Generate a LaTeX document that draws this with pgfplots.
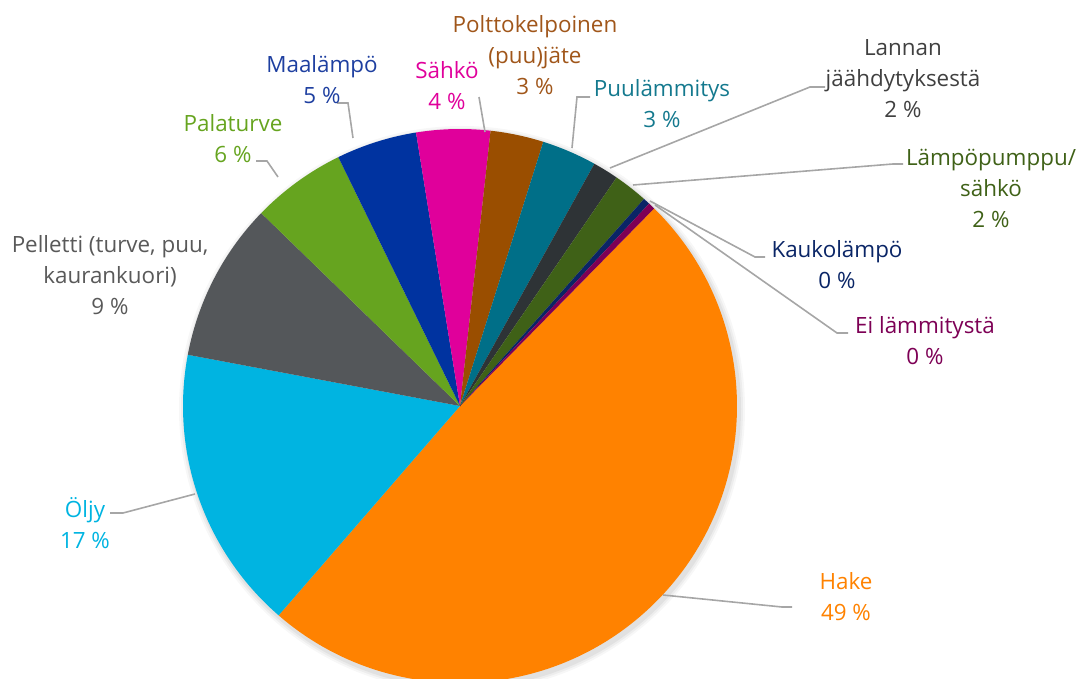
\documentclass[border=0pt]{standalone}
\usepackage{pgfplots}
\pgfplotsset{compat=1.18}
\usepackage{pgfplotstable}
\usepackage{fontspec}
\setmainfont{Open Sans}
\definecolor{cHake}{HTML}{FF8200}
\definecolor{cOljy}{HTML}{00B4E1}
\definecolor{cPell}{HTML}{54575A}
\definecolor{cPala}{HTML}{66A41F}
\definecolor{cMaa}{HTML}{0033A0}
\definecolor{cSahko}{HTML}{E0009B}
\definecolor{cPoltto}{HTML}{9A4E00}
\definecolor{cPuu}{HTML}{006F88}
\definecolor{cLannan}{HTML}{2E3336}
\definecolor{cLampo}{HTML}{3F6117}
\definecolor{cKauko}{HTML}{0A2566}
\definecolor{cEi}{HTML}{7D0055}
\definecolor{tPell}{HTML}{595959}
\definecolor{tPoltto}{HTML}{A0561A}
\definecolor{tPuu}{HTML}{14798E}
\definecolor{tLannan}{HTML}{404040}
\definecolor{tMaa}{HTML}{1E3FA0}
\definecolor{leader}{HTML}{A6A6A6}
\pgfplotstableread[col sep=comma]{
name,value,col
Hake,49.0,cHake
Oljy,16.6,cOljy
Pelletti,9.3,cPell
Palaturve,5.5,cPala
Maalampo,4.7,cMaa
Sahko,4.3,cSahko
Polttokelpoinen,3.1,cPoltto
Puulammitys,3.2,cPuu
Lannan,1.5,cLannan
Lampopumppu,2.0,cLampo
Kaukolampo,0.4,cKauko
Ei,0.4,cEi
}\piedata
\tikzset{lbl/.style={font=\fontsize{11.2pt}{15.5pt}\selectfont, align=center, inner sep=0pt}}
\begin{document}
\begin{tikzpicture}
\begin{axis}[name=ax,
  scale only axis, width=541pt, height=339.5pt,
  xmin=0, xmax=1082, ymin=0, ymax=679, y dir=reverse,
  axis lines=none, clip=true,
]
% soft shadow
\foreach \k/\op in {6/0.03,4/0.04,2/0.05}{
  \edef\temp{\noexpand\fill[black, opacity=\op] (axis cs:462,409) circle[radius=138.5pt+\k*0.5pt];}
  \temp
}
\pgfplotstablegetrowsof{\piedata}
\pgfmathtruncatemacro\N{\pgfplotsretval-1}
\def\angstart{45.5}
\pgfplotsforeachungrouped \i in {0,...,\N}{%
  \pgfplotstablegetelem{\i}{value}\of\piedata \let\v\pgfplotsretval
  \pgfplotstablegetelem{\i}{col}\of\piedata \let\c\pgfplotsretval
  \pgfmathsetmacro\angend{\angstart-3.6*\v}%
  \edef\temp{\noexpand\fill[\c] (axis cs:460,406) -- ++(\angstart:138.5pt) arc[start angle=\angstart, end angle=\angend, radius=138.5pt] -- cycle;}%
  \temp
  \global\let\angstart\angend
}
% leader lines
\draw[leader, line width=0.8pt] (axis cs:663,595) -- (axis cs:782,607) -- (axis cs:792,607);
\draw[leader, line width=0.8pt] (axis cs:195,494) -- (axis cs:123,513) -- (axis cs:110,513);
\draw[leader, line width=0.8pt] (axis cs:278,177) -- (axis cs:267,161) -- (axis cs:256,161);
\draw[leader, line width=0.8pt] (axis cs:353,138) -- (axis cs:348,103) -- (axis cs:337,103);
\draw[leader, line width=0.8pt] (axis cs:485,132) -- (axis cs:479,97);
\draw[leader, line width=0.8pt] (axis cs:572,148) -- (axis cs:577,97) -- (axis cs:590,97);
\draw[leader, line width=0.8pt] (axis cs:610,168) -- (axis cs:810,87) -- (axis cs:825,87);
\draw[leader, line width=0.8pt] (axis cs:633,185) -- (axis cs:893,164) -- (axis cs:903,164);
\draw[leader, line width=0.8pt] (axis cs:650,201) -- (axis cs:755,257) -- (axis cs:765,257);
\draw[leader, line width=0.8pt] (axis cs:655,205) -- (axis cs:837,333) -- (axis cs:848,333);
% labels
\node[lbl, text=cHake] at (axis cs:846,597) {Hake\\49 \%};
\node[lbl, text=cOljy] at (axis cs:85,523) {Öljy\\17 \%};
\node[lbl, text=tPell] at (axis cs:110,275) {Pelletti (turve, puu,\\kaurankuori)\\9 \%};
\node[lbl, text=cPala] at (axis cs:233,139) {Palaturve\\6 \%};
\node[lbl, text=tMaa] at (axis cs:322,80) {Maalämpö\\5 \%};
\node[lbl, text=cSahko] at (axis cs:447,86) {Sähkö\\4 \%};
\node[lbl, text=tPoltto] at (axis cs:535,55) {Polttokelpoinen\\(puu)jäte\\3 \%};
\node[lbl, text=tPuu] at (axis cs:662,104) {Puulämmitys\\3 \%};
\node[lbl, text=tLannan] at (axis cs:903,79) {Lannan\\jäähdytyksestä\\2 \%};
\node[lbl, text=cLampo] at (axis cs:991,188) {Lämpöpumppu/\\sähkö\\2 \%};
\node[lbl, text=cKauko] at (axis cs:837,265) {Kaukolämpö\\0 \%};
\node[lbl, text=cEi] at (axis cs:925,341) {Ei lämmitystä\\0 \%};
\end{axis}
\pgfresetboundingbox
\path[use as bounding box] (ax.south west) rectangle (ax.north east);
\end{tikzpicture}
\end{document}
